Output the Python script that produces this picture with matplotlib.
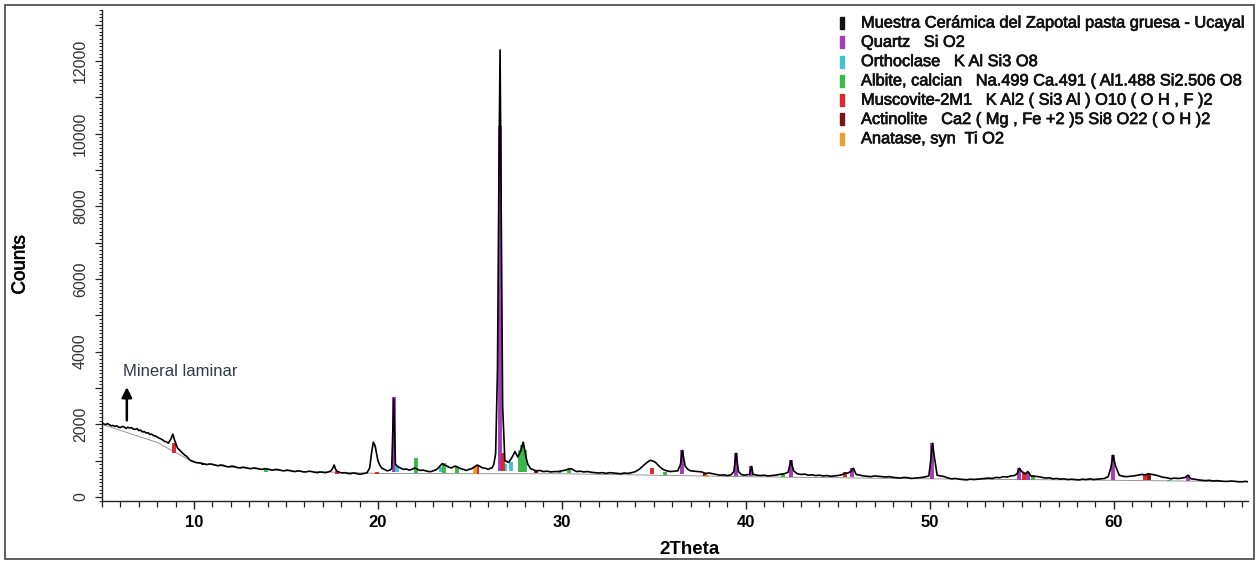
import numpy as np
import matplotlib
matplotlib.use('Agg')
import matplotlib.pyplot as plt
import matplotlib.patheffects as pe
from matplotlib.patches import Rectangle
from matplotlib.ticker import MultipleLocator, FuncFormatter

plt.rcParams['font.family'] = ['Liberation Sans', 'DejaVu Sans']

# perfil medido: pares (2theta, cuentas)
profile = [
    (5.0, 2040), (5.1, 2010), (5.2, 1990), (5.3, 2020), (5.4, 1990), (5.5, 1960), (5.6, 1970),
    (5.7, 1940), (5.8, 1960), (5.9, 1920), (6.0, 1910), (6.1, 1940), (6.2, 1930), (6.3, 1890),
    (6.4, 1920), (6.5, 1900), (6.6, 1910), (6.7, 1870), (6.8, 1860), (6.9, 1880), (7.0, 1830),
    (7.1, 1840), (7.2, 1790), (7.3, 1800), (7.4, 1760), (7.5, 1770), (7.6, 1720), (7.7, 1730),
    (7.8, 1690), (7.9, 1680), (8.0, 1650), (8.1, 1620), (8.2, 1600), (8.3, 1570), (8.4, 1530),
    (8.5, 1520), (8.6, 1480), (8.75, 1600), (8.85, 1730), (8.95, 1560), (9.1, 1350), (9.2, 1300),
    (9.3, 1250), (9.4, 1200), (9.5, 1150), (9.6, 1120), (9.7, 1060), (9.8, 1010), (9.9, 990),
    (10.0, 970), (10.1, 950), (10.25, 940), (10.4, 930), (10.55, 910), (10.7, 890), (10.85, 910),
    (11.0, 900), (11.15, 880), (11.3, 860), (11.45, 880), (11.6, 870), (11.75, 840), (11.9, 830),
    (12.05, 850), (12.2, 840), (12.35, 810), (12.5, 800), (12.65, 820), (12.8, 810), (12.95, 790),
    (13.1, 780), (13.25, 800), (13.4, 790), (13.55, 770), (13.7, 760), (13.85, 780), (14.0, 770),
    (14.15, 750), (14.3, 740), (14.45, 760), (14.6, 750), (14.75, 730), (14.9, 720), (15.05, 740),
    (15.2, 730), (15.35, 710), (15.5, 700), (15.65, 720), (15.8, 710), (15.95, 690), (16.1, 690),
    (16.25, 710), (16.4, 700), (16.55, 680), (16.7, 670), (16.85, 690), (17.0, 680), (17.15, 670),
    (17.3, 690), (17.45, 720), (17.55, 800), (17.62, 880), (17.7, 760), (17.8, 700), (17.9, 680),
    (18.05, 660), (18.2, 670), (18.35, 650), (18.5, 640), (18.65, 660), (18.8, 650), (18.95, 630),
    (19.1, 630), (19.25, 650), (19.4, 660), (19.55, 800), (19.65, 1200), (19.75, 1510),
    (19.85, 1400), (20.0, 1000), (20.1, 880), (20.2, 800), (20.35, 760), (20.5, 720), (20.65, 740),
    (20.75, 780), (20.86, 2700), (20.95, 900), (21.1, 830), (21.25, 790), (21.4, 760), (21.55, 770),
    (21.7, 740), (21.85, 760), (22.0, 800), (22.15, 760), (22.3, 730), (22.45, 740), (22.6, 720),
    (22.75, 700), (22.9, 700), (23.05, 730), (23.2, 760), (23.35, 840), (23.5, 920), (23.6, 880),
    (23.7, 870), (23.85, 820), (24.0, 800), (24.1, 830), (24.2, 850), (24.35, 820), (24.5, 780),
    (24.65, 760), (24.8, 730), (24.95, 760), (25.1, 780), (25.25, 830), (25.4, 880), (25.55, 840),
    (25.7, 800), (25.85, 790), (26.0, 760), (26.1, 790), (26.2, 800), (26.3, 900), (26.4, 1200),
    (26.5, 3500), (26.58, 9000), (26.64, 12300), (26.7, 8000), (26.78, 2500), (26.9, 1000),
    (27.0, 980), (27.1, 950), (27.2, 1020), (27.3, 1100), (27.45, 1250), (27.6, 1100),
    (27.75, 1250), (27.9, 1510), (28.05, 1100), (28.15, 900), (28.3, 780), (28.45, 750),
    (28.6, 720), (28.8, 730), (29.0, 700), (29.2, 710), (29.4, 690), (29.6, 700), (29.8, 700),
    (30.0, 720), (30.2, 740), (30.35, 770), (30.5, 780), (30.65, 740), (30.8, 700), (31.0, 710),
    (31.2, 690), (31.4, 700), (31.6, 680), (31.8, 670), (32.0, 660), (32.2, 670), (32.4, 650),
    (32.6, 670), (32.8, 660), (33.0, 650), (33.2, 640), (33.4, 660), (33.6, 650), (33.8, 670),
    (34.0, 700), (34.2, 760), (34.4, 850), (34.6, 940), (34.8, 1010), (34.95, 990), (35.1, 950),
    (35.3, 840), (35.5, 760), (35.7, 720), (35.9, 700), (36.1, 710), (36.3, 720), (36.45, 900),
    (36.55, 1280), (36.7, 850), (36.85, 760), (37.0, 720), (37.2, 710), (37.4, 700), (37.6, 690),
    (37.8, 650), (38.0, 660), (38.2, 640), (38.4, 620), (38.6, 600), (38.8, 610), (39.0, 590),
    (39.2, 610), (39.35, 700), (39.47, 1200), (39.6, 700), (39.75, 620), (39.9, 600),
    (40.05, 610), (40.2, 620), (40.3, 840), (40.4, 620), (40.6, 600), (40.8, 590), (41.0, 600),
    (41.2, 580), (41.4, 590), (41.6, 600), (41.8, 620), (42.0, 630), (42.15, 650), (42.3, 680),
    (42.45, 1000), (42.6, 720), (42.8, 640), (43.0, 620), (43.2, 630), (43.4, 600), (43.6, 610),
    (43.8, 590), (44.0, 600), (44.2, 580), (44.4, 590), (44.6, 570), (44.8, 580), (45.0, 590),
    (45.2, 610), (45.4, 650), (45.55, 660), (45.7, 700), (45.85, 790), (46.0, 620), (46.2, 600),
    (46.4, 580), (46.6, 570), (46.8, 560), (47.0, 580), (47.2, 570), (47.4, 560), (47.6, 550),
    (47.8, 560), (48.0, 540), (48.2, 530), (48.4, 520), (48.6, 540), (48.8, 530), (49.0, 510),
    (49.2, 520), (49.4, 530), (49.6, 540), (49.8, 560), (49.95, 580), (50.05, 1000), (50.15, 1480),
    (50.25, 1100), (50.4, 600), (50.6, 580), (50.8, 560), (51.0, 520), (51.2, 500), (51.4, 510),
    (51.6, 490), (51.8, 480), (52.0, 470), (52.2, 490), (52.4, 480), (52.6, 490), (52.8, 500),
    (53.0, 510), (53.2, 520), (53.4, 510), (53.6, 540), (53.8, 530), (54.0, 560), (54.2, 550),
    (54.4, 580), (54.6, 590), (54.75, 640), (54.87, 790), (55.0, 700), (55.2, 640), (55.33, 700),
    (55.5, 580), (55.7, 570), (55.9, 560), (56.1, 540), (56.3, 520), (56.5, 530), (56.7, 500),
    (56.9, 510), (57.1, 490), (57.3, 500), (57.5, 480), (57.7, 490), (57.9, 480), (58.1, 470),
    (58.3, 490), (58.5, 480), (58.7, 500), (58.9, 480), (59.1, 490), (59.3, 500), (59.5, 510),
    (59.7, 560), (59.85, 820), (59.96, 1150), (60.1, 850), (60.3, 600), (60.5, 570), (60.7, 560),
    (60.9, 570), (61.1, 580), (61.3, 600), (61.5, 620), (61.7, 610), (61.9, 640), (62.1, 620),
    (62.3, 600), (62.5, 570), (62.7, 540), (62.9, 530), (63.1, 500), (63.3, 520), (63.5, 510),
    (63.7, 520), (63.9, 540), (64.03, 600), (64.2, 500), (64.4, 490), (64.6, 470), (64.8, 460),
    (65.0, 450), (65.2, 460), (65.4, 440), (65.6, 450), (65.8, 440), (66.0, 430), (66.2, 430),
    (66.4, 440), (66.6, 430), (66.8, 420), (67.0, 420), (67.15, 430), (67.3, 420),
]
two_theta = [p[0] for p in profile]
counts = [p[1] for p in profile]

# fondo
bg_theta = [5.0, 8.0, 10.0, 12.0, 15.0, 20.0, 25.0, 30.0, 35.0, 40.0, 45.0, 50.0, 55.0, 60.0, 67.3]
bg_counts = [2000, 1500, 950, 820, 720, 650, 640, 640, 600, 560, 530, 500, 480, 460, 420]

# fases de referencia: posicion, base, tope
quartz_pos = [20.86, 26.64, 36.54, 39.47, 40.29, 42.45, 45.79, 50.14, 54.87, 55.33, 59.96, 64.03]
quartz_top = [2750, 10200, 1300, 1200, 850, 1020, 800, 1480, 800, 700, 1150, 600]
quartz_base = [700, 720, 640, 580, 570, 560, 540, 500, 480, 480, 460, 440]

orth_pos = [21.05, 23.45, 26.9, 27.25, 29.9]
orth_top = [850, 820, 900, 950, 700]
orth_base = [700, 700, 720, 720, 650]

albite_pos = [13.9, 22.05, 23.6, 24.3, 27.7, 27.85, 28.0, 30.4, 35.6, 42.0, 52.0, 55.6, 63.0]
albite_top = [760, 1070, 940, 820, 1300, 1420, 1300, 780, 700, 650, 480, 600, 470]
albite_base = [700, 660, 660, 660, 700, 700, 700, 650, 600, 560, 460, 470, 430]

musc_pos = [8.9, 17.8, 19.95, 25.4, 26.8, 34.9, 45.4, 55.1, 61.7]
musc_top = [1480, 720, 700, 880, 1200, 800, 700, 650, 620]
musc_base = [1200, 640, 640, 640, 720, 620, 540, 480, 460]

actin_pos = [10.5, 28.6, 33.1, 37.8, 61.9]
actin_top = [930, 720, 650, 650, 620]
actin_base = [880, 660, 620, 580, 460]

anat_pos = [25.3, 37.9, 48.0]
anat_top = [860, 600, 520]
anat_base = [640, 560, 510]

legend_labels = ['Muestra Cerámica del Zapotal pasta gruesa - Ucayal',
                 'Quartz   Si O2',
                 'Orthoclase   K Al Si3 O8',
                 'Albite, calcian   Na.499 Ca.491 ( Al1.488 Si2.506 O8',
                 'Muscovite-2M1   K Al2 ( Si3 Al ) O10 ( O H , F )2',
                 'Actinolite   Ca2 ( Mg , Fe +2 )5 Si8 O22 ( O H )2',
                 'Anatase, syn  Ti O2']
legend_colors = ['#111111', '#a23cb8', '#3fc2d6', '#3cb84a', '#e02626', '#7a1616', '#e8a030']

heavy = [pe.withStroke(linewidth=0.5, foreground='#111111')]

W, H = 1259, 564
fig = plt.figure(figsize=(W / 100, H / 100), dpi=100)
ax = fig.add_axes([102 / W, 1 - 501 / H, (1248 - 102) / W, (501 - 10) / H])

phases = [(quartz_pos, quartz_base, quartz_top, legend_colors[1]),
          (orth_pos, orth_base, orth_top, legend_colors[2]),
          (albite_pos, albite_base, albite_top, legend_colors[3]),
          (musc_pos, musc_base, musc_top, legend_colors[4]),
          (actin_pos, actin_base, actin_top, legend_colors[5]),
          (anat_pos, anat_base, anat_top, legend_colors[6])]
for pos, base, top, col in phases:
    ax.vlines(pos, base, top, colors=col, linewidth=2.8, zorder=2)

ax.plot(bg_theta, bg_counts, color='#888888', linewidth=0.6, zorder=1)
ax.plot(two_theta, counts, color='black', linewidth=1.2, zorder=3)

ax.set_xlim(5, 67.3)
ax.set_ylim(-110, 13400)

for s in ['top', 'right']:
    ax.spines[s].set_visible(False)
for s in ['left', 'bottom']:
    ax.spines[s].set_color('#222222')
    ax.spines[s].set_linewidth(1.0)

ax.xaxis.set_major_locator(MultipleLocator(10))
ax.xaxis.set_minor_locator(MultipleLocator(1))
ax.yaxis.set_major_locator(MultipleLocator(1000))
ax.yaxis.set_minor_locator(MultipleLocator(100))
ax.yaxis.set_major_formatter(FuncFormatter(lambda v, p: '%d' % v if v % 2000 == 0 else ''))
ax.tick_params(axis='x', which='major', length=6, width=1.0, labelsize=12, pad=4, color='#222222')
ax.tick_params(axis='x', which='minor', length=4, width=0.9, color='#222222')
ax.tick_params(axis='y', which='major', length=5, width=0.9, labelsize=11.5, pad=5, color='#222222')
ax.tick_params(axis='y', which='minor', length=2.5, width=0.7, color='#222222')
for lab in ax.get_xticklabels():
    lab.set_fontweight('bold')
for lab in ax.get_yticklabels():
    lab.set_rotation(90)
    lab.set_va('center')
    lab.set_color('#333333')

# anotacion
ax.annotate('', xy=(6.35, 3100), xytext=(6.35, 2030),
            arrowprops=dict(arrowstyle='-|>', color='black', lw=1.8, mutation_scale=15))
ax.text(6.15, 3450, 'Mineral laminar', fontsize=12, color='#2e3a48', va='center', ha='left')

fig.text(20 / W, 1 - 265 / H, 'Counts', rotation=90, fontsize=13.5, ha='center', va='center',
         path_effects=heavy)
fig.text(690 / W, 1 - 549 / H, '2Theta', fontsize=13.5, fontweight='bold', ha='center', va='center')

# leyenda
for i, (lab, col) in enumerate(zip(legend_labels, legend_colors)):
    yc = 23 + i * 19.3
    fig.patches.append(Rectangle((840 / W, 1 - (yc + 6) / H), 4 / W, 12 / H,
                                 transform=fig.transFigure, color=col, figure=fig))
    fig.text(861 / W, 1 - yc / H, lab, fontsize=11.8, color='#111111', va='center', ha='left',
             path_effects=heavy)

# marco
fig.patches.append(Rectangle((5 / W, 5 / H), 1249 / W, 554 / H, transform=fig.transFigure,
                             fill=False, edgecolor='#444444', linewidth=1.2, figure=fig))

fig.savefig('out.png', dpi=100)
